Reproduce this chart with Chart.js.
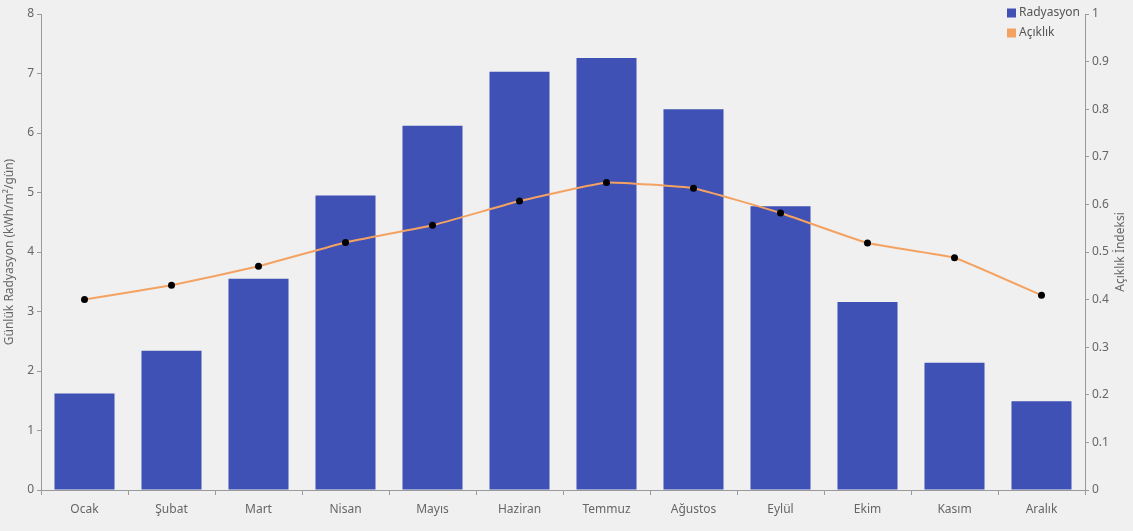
<!DOCTYPE html>
<html>
<head>
<meta charset="utf-8">
<script src="https://cdn.jsdelivr.net/npm/chart.js@4.4.0/dist/chart.umd.min.js"></script>
<style>
  html, body { margin: 0; padding: 0; background: #f0f0f0; }
  #wrap { width: 1133px; height: 531px; }
</style>
</head>
<body>
<div id="wrap"><canvas id="chart"></canvas></div>
<script>
// months
const months = ['Ocak', 'Şubat', 'Mart', 'Nisan', 'Mayıs', 'Haziran',
                'Temmuz', 'Ağustos', 'Eylül', 'Ekim', 'Kasım', 'Aralık'];

// daily radiation, kWh/m²/day
const radiation = [1.62, 2.34, 3.55, 4.95, 6.12, 7.03, 7.26, 6.40, 4.77, 3.16, 2.14, 1.49];

// clearness index
const clearness = [0.40, 0.43, 0.47, 0.52, 0.556, 0.607, 0.646, 0.634, 0.582, 0.519, 0.488, 0.409];

const BLUE = '#3f51b5';
const ORANGE = '#f4a261';
const TEXT = '#666';
const AXIS = '#9a9a9a';
const FONT = "'Noto Sans', 'Open Sans', sans-serif";

Chart.defaults.font.family = FONT;
Chart.defaults.font.size = 12;
Chart.defaults.color = TEXT;

// draws the legend top-right and the right axis title reading upward
const extras = {
  id: 'extras',
  afterDraw(chart) {
    const ctx = chart.ctx;
    ctx.save();
    ctx.font = '12px ' + FONT;
    ctx.textBaseline = 'middle';
    ctx.textAlign = 'left';
    chart.data.datasets.forEach((ds, i) => {
      const y = 13 + i * 20;
      ctx.fillStyle = ds.legendColor;
      ctx.fillRect(1007, y - 4.5, 9, 9);
      ctx.fillStyle = '#555';
      ctx.fillText(ds.label, 1019, y);
    });

    const area = chart.chartArea;
    ctx.translate(1121, (area.top + area.bottom) / 2);
    ctx.rotate(-Math.PI / 2);
    ctx.textAlign = 'center';
    ctx.fillStyle = TEXT;
    ctx.fillText('Açıklık İndeksi', 0, 0);
    ctx.restore();
  }
};

new Chart(document.getElementById('chart').getContext('2d'), {
  type: 'bar',
  data: {
    labels: months,
    datasets: [
      {
        label: 'Radyasyon',
        data: radiation,
        yAxisID: 'y',
        backgroundColor: BLUE,
        barPercentage: 0.69,
        categoryPercentage: 1,
        legendColor: BLUE,
        order: 1
      },
      {
        type: 'line',
        label: 'Açıklık',
        data: clearness,
        yAxisID: 'y1',
        borderColor: ORANGE,
        borderWidth: 2,
        tension: 0.1,
        pointRadius: 3.5,
        pointBackgroundColor: '#000',
        pointBorderWidth: 0,
        legendColor: ORANGE,
        order: 0
      }
    ]
  },
  options: {
    responsive: true,
    maintainAspectRatio: false,
    animation: false,
    layout: { padding: { top: 14, bottom: 0, left: 0, right: 0 } },
    plugins: {
      legend: { display: false },
      tooltip: { enabled: false }
    },
    scales: {
      x: {
        grid: { display: true, drawOnChartArea: false, tickLength: 5, color: AXIS },
        border: { display: true, color: AXIS },
        ticks: { padding: 7, color: TEXT },
        afterFit: s => { s.height = 41; }
      },
      y: {
        position: 'left',
        min: 0,
        max: 8,
        ticks: { stepSize: 1, padding: 3, color: TEXT },
        grid: { display: true, drawOnChartArea: false, tickLength: 4, color: AXIS },
        border: { display: true, color: AXIS },
        title: { display: true, text: 'Günlük Radyasyon (kWh/m²/gün)', color: TEXT, padding: 2 },
        afterFit: s => { s.width = 41; }
      },
      y1: {
        position: 'right',
        min: 0,
        max: 1,
        ticks: {
          stepSize: 0.1,
          padding: 3,
          color: TEXT,
          callback: v => String(+v.toFixed(1))
        },
        grid: { display: true, drawOnChartArea: false, tickLength: 4, color: AXIS },
        border: { display: true, color: AXIS },
        afterFit: s => { s.width = 48; }
      }
    }
  },
  plugins: [extras]
});
</script>
</body>
</html>
